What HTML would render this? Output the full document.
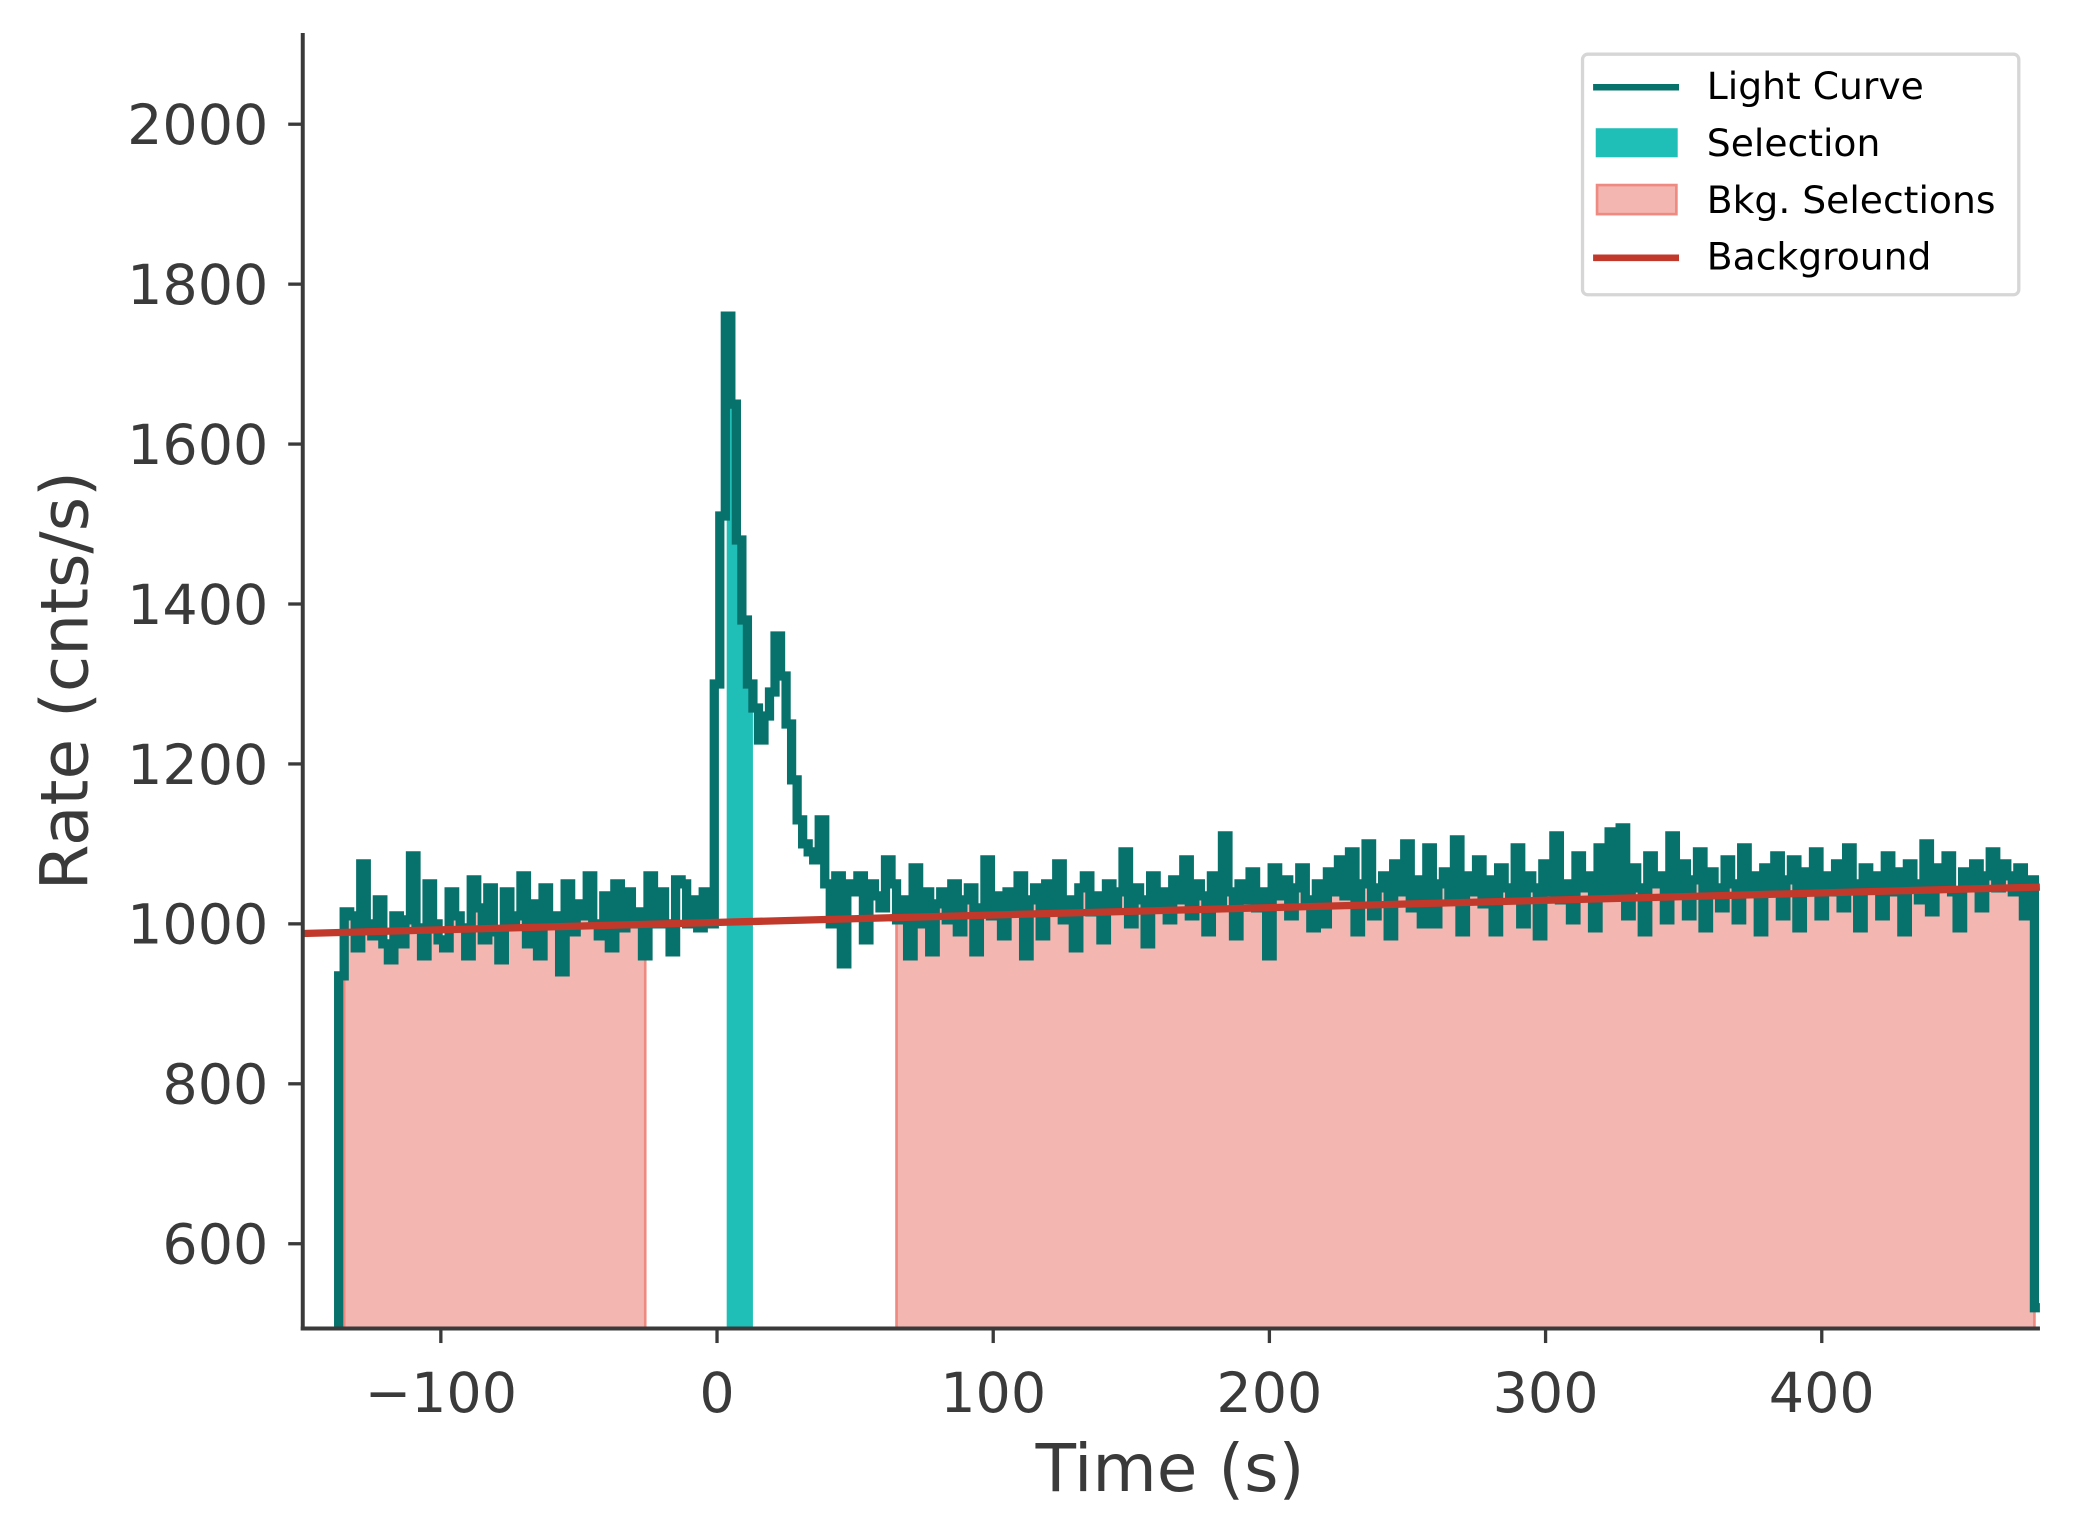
<!DOCTYPE html>
<html><head><meta charset="utf-8"><style>
html,body{margin:0;padding:0;background:#fff;}
svg{display:block;}
text{font-family:"DejaVu Sans","Liberation Sans",sans-serif;}
</style></head><body>
<svg id="chart" width="2073" height="1540" viewBox="0 0 1568 1165" preserveAspectRatio="none" xmlns="http://www.w3.org/2000/svg">
<defs><clipPath id="clip"><rect x="229" y="25" width="1314" height="980"/></clipPath></defs>
<g id="plot" clip-path="url(#clip)"></g>
<g id="axes"></g>
<g>
<rect x="1197" y="41" width="330" height="182" rx="4" fill="#fff" stroke="#d6d6d6" stroke-width="2.5"/>
<line x1="1205" y1="66" x2="1270" y2="66" stroke="#07716b" stroke-width="5"/>
<text x="1291" y="75" font-size="28.5" fill="#000">Light Curve</text>
<rect x="1207" y="97" width="62" height="22" fill="#1fbfb8"/>
<text x="1291" y="118" font-size="28.5" fill="#000">Selection</text>
<rect x="1208" y="140" width="60" height="22" fill="#f4b6b1" stroke="#ee8a80" stroke-width="2"/>
<text x="1291" y="161" font-size="28.5" fill="#000">Bkg. Selections</text>
<line x1="1205" y1="195" x2="1270" y2="195" stroke="#c0392b" stroke-width="5"/>
<text x="1291" y="204" font-size="28.5" fill="#000">Background</text>
</g>
</svg>
<script>
const t0 = -139;
const binWidth = 2;
const rates = [300,
935,1015,1010,970,1075,1000,985,1030,975,955,
1010,975,1005,1085,995,960,1050,1000,980,970,
1040,1010,995,960,1055,1020,980,1045,990,955,
1040,1000,1010,1060,975,1025,960,1045,1000,1010,
940,1050,990,1025,1010,1060,1000,985,1035,970,
1050,995,1040,1000,1015,960,1060,1000,1040,1000,
965,1055,1050,1000,1030,995,1040,1000,
1300,1510,1760,1650,1480,1380,1300,1270,1230,1260,1290,1360,1310,1250,1180,1130,1100,1090,1080,1130,1050,1000,1060,950,1050,1040,1060,980,1050,1035,1020,1080,1050,1005,
1030,960,1070,1000,1040,965,1025,1040,1005,1050,
990,1030,1045,965,1020,1080,1010,1035,985,1040,
1020,1060,960,1030,1045,985,1050,1020,1075,1005,
1030,970,1045,1060,1015,1035,980,1050,1025,1040,
1090,1000,1045,1030,975,1060,1020,1040,1005,1055,
1030,1080,1010,1050,1035,990,1060,1025,1110,1040,
985,1050,1030,1065,1020,1040,960,1070,1035,1055,
1010,1045,1070,1030,995,1050,1000,1065,1040,1080,
1035,1090,990,1050,1100,1010,1045,1060,985,1075,
1040,1100,1020,1055,1000,1095,1000,1050,1065,1035,
1105,990,1060,1040,1080,1025,1055,990,1070,1045,
1035,1095,1000,1060,1045,985,1075,1040,1110,1030,
1050,1005,1085,1045,1060,995,1095,1035,1115,1040,
1120,1010,1070,1045,990,1085,1050,1060,1005,1110,
1040,1075,1010,1055,1090,995,1065,1045,1020,1080,
1050,1005,1095,1045,1060,990,1070,1040,1085,1010,
1055,1080,995,1065,1045,1090,1010,1060,1040,1075,
1020,1095,1050,995,1070,1045,1060,1010,1085,1040,
1065,990,1075,1050,1030,1100,1015,1070,1045,1085,
1040,995,1065,1050,1075,1020,1060,1090,1045,1075,
1060,1040,1070,1010,1055,520];
const selection = [3.5, 13];
const bkgSelections = [[-135, -26], [65, 477]];
const bkgLine = [[-150, 988], [479, 1046]];
const xTicks = [-100, 0, 100, 200, 300, 400];
const xTickLabels = ["\u2212100", "0", "100", "200", "300", "400"];
const yTicks = [600, 800, 1000, 1200, 1400, 1600, 1800, 2000];
const yTickLabels = ["600", "800", "1000", "1200", "1400", "1600", "1800", "2000"];

const X0 = 229, X1 = 1543, Y0 = 1005, Y1 = 25;
const xmin = -150, xmax = 479, ymin = 494, ymax = 2114;
const xs = v => X0 + (v - xmin) / (xmax - xmin) * (X1 - X0);
const ys = v => Y0 - (v - ymin) / (ymax - ymin) * (Y0 - Y1);
const NS = "http://www.w3.org/2000/svg";
const plot = document.getElementById('plot');
const axes = document.getElementById('axes');
function mk(tag, attrs, parent) {
  const e = document.createElementNS(NS, tag);
  for (const k in attrs) e.setAttribute(k, attrs[k]);
  parent.appendChild(e);
  return e;
}
function rateAt(t) {
  let i = Math.floor((t - t0) / binWidth);
  i = Math.max(0, Math.min(rates.length - 1, i));
  return rates[i];
}
function fillPath(a, b) {
  let d = 'M' + xs(a) + ' ' + ys(ymin - 50);
  let t = a;
  while (t < b) {
    const i = Math.floor((t - t0) / binWidth + 1e-9);
    const nextEdge = t0 + (i + 1) * binWidth;
    const te = Math.min(b, nextEdge);
    const v = rateAt(t + 1e-6);
    d += ' L' + xs(t) + ' ' + ys(v) + ' L' + xs(te) + ' ' + ys(v);
    t = te;
  }
  d += ' L' + xs(b) + ' ' + ys(ymin - 50) + ' Z';
  return d;
}
bkgSelections.forEach((r, k) => {
  const p = mk('path', {d: fillPath(r[0], r[1]), fill: '#f4b6b1', stroke: '#ee8a80', 'stroke-width': 2}, plot);
  
  
});
const sel = mk('path', {d: fillPath(selection[0], selection[1]), fill: '#1fbfb8'}, plot);


let d = 'M' + xs(t0) + ' ' + ys(ymin - 50);
rates.forEach((v, i) => {
  const a = t0 + i * binWidth, b = a + binWidth;
  d += ' L' + xs(a) + ' ' + ys(v) + ' L' + xs(b) + ' ' + ys(v);
});
const lc = mk('path', {d: d, fill: 'none', stroke: '#07716b', 'stroke-width': 7, 'stroke-linejoin': 'miter'}, plot);


const bl = mk('line', {x1: xs(bkgLine[0][0]), y1: ys(bkgLine[0][1]), x2: xs(bkgLine[1][0]), y2: ys(bkgLine[1][1]), stroke: '#c0392b', 'stroke-width': 5.5}, plot);



mk('line', {x1: X0, y1: Y1, x2: X0, y2: Y0 + 1.5, stroke: '#3a3a3a', 'stroke-width': 3}, axes);
mk('line', {x1: X0 - 1.5, y1: Y0, x2: X1, y2: Y0, stroke: '#3a3a3a', 'stroke-width': 3}, axes);
xTicks.forEach((v, i) => {
  mk('line', {x1: xs(v), y1: Y0, x2: xs(v), y2: Y0 + 11, stroke: '#3a3a3a', 'stroke-width': 2.5}, axes);
  const t = mk('text', {x: xs(v), y: Y0 + 63, 'font-size': 42, 'text-anchor': 'middle', fill: '#3a3a3a'}, axes);
  t.textContent = xTickLabels[i];
  
  
});
yTicks.forEach((v, i) => {
  mk('line', {x1: X0, y1: ys(v), x2: X0 - 11, y2: ys(v), stroke: '#3a3a3a', 'stroke-width': 2.5}, axes);
  const t = mk('text', {x: X0 - 26, y: ys(v) + 15, 'font-size': 42, 'text-anchor': 'end', fill: '#3a3a3a'}, axes);
  t.textContent = yTickLabels[i];
  
  
});
const xt = mk('text', {x: 885, y: 1128, 'font-size': 50, 'text-anchor': 'middle', fill: '#3a3a3a'}, axes);
xt.textContent = 'Time (s)';


const yt = mk('text', {x: 0, y: 0, 'font-size': 50, 'text-anchor': 'middle', fill: '#3a3a3a', transform: 'translate(66,515) rotate(-90)'}, axes);
yt.textContent = 'Rate (cnts/s)';


</script>
</body></html>
